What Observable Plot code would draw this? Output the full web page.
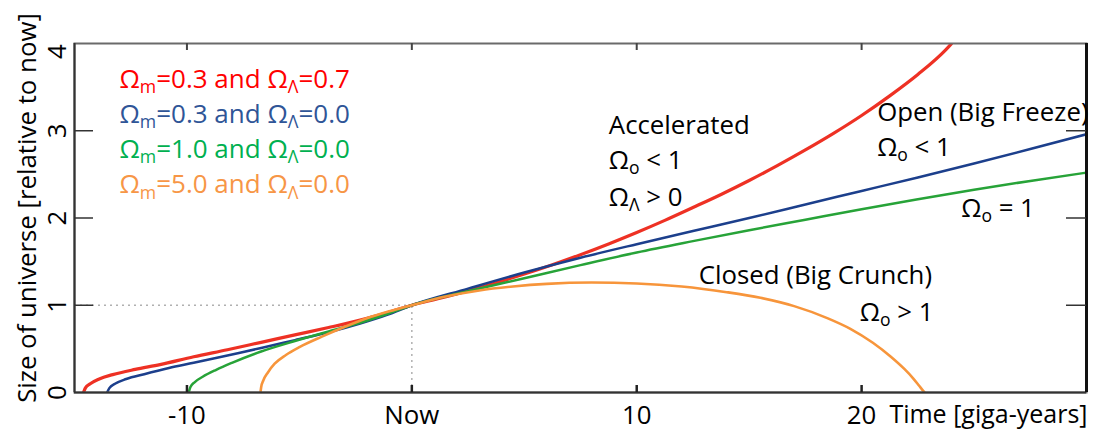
<!DOCTYPE html>
<html>
<head>
<meta charset="utf-8">
<script src="https://cdn.jsdelivr.net/npm/d3@7"></script>
<script src="https://cdn.jsdelivr.net/npm/@observablehq/plot@0.6"></script>
<style>
  html, body { margin: 0; padding: 0; background: #fff; }
  #chart { width: 1095px; height: 431px; }
</style>
</head>
<body>
<div id="chart"></div>
<script>
// ---------- data (time in giga-years relative to now, size relative to now) ----------
const redTime = [-14.6,-14.52,-14.3,-13.9,-13.3,-12.3,-11.2,-9.7,-8.2,-6.7,-5.2,-3.7,-2.3,-1.1,0,1.25,2.5,3.75,5,6.25,7.5,8.75,10,11.25,12.5,13.75,15,16.25,17.5,18.75,20,21.25,22.5,23.75,24.0];
const redSize = [0,0.05,0.10,0.155,0.205,0.265,0.32,0.41,0.49,0.575,0.66,0.745,0.83,0.915,1.0,1.08,1.165,1.258,1.358,1.465,1.58,1.703,1.834,1.973,2.12,2.27,2.43,2.60,2.78,2.97,3.175,3.40,3.645,3.93,4.0];

const blueTime = [-13.55,-13.45,-13.2,-12.7,-11.9,-10.8,-9.7,-8.2,-6.7,-5.2,-3.7,-2.3,-1.1,0,2.5,5,7.5,10,12.5,15,17.5,20,22.5,25,27.5,30];
const blueSize = [0,0.05,0.10,0.155,0.21,0.28,0.34,0.425,0.51,0.60,0.69,0.79,0.89,1.0,1.19,1.375,1.545,1.70,1.85,2.0,2.155,2.31,2.465,2.625,2.79,2.96];

const greenTime = [-9.92,-9.85,-9.65,-9.3,-8.7,-8.0,-6.7,-5.2,-3.7,-2.3,-1.1,0,2.5,5,7.5,10,12.5,15,17.5,20,22.5,25,27.5,30];
const greenSize = [0,0.06,0.12,0.18,0.26,0.34,0.47,0.59,0.70,0.80,0.90,1.0,1.16,1.31,1.46,1.605,1.735,1.86,1.98,2.10,2.215,2.325,2.425,2.52];

const orangeTime = [-6.73,-6.7,-6.6,-6.4,-6.1,-5.6,-5.0,-4.0,-3.0,-2.0,-1.0,0,1.5,3,4.5,6,8,10,12,14,15.5,17,18.5,19.5,20.5,21.3,21.9,22.3,22.55,22.72,22.8];
const orangeSize = [0,0.06,0.14,0.23,0.33,0.43,0.52,0.64,0.75,0.85,0.93,1.0,1.1,1.17,1.215,1.245,1.26,1.25,1.215,1.15,1.085,0.99,0.85,0.73,0.57,0.41,0.27,0.16,0.08,0.025,0];

const seriesNames  = ["red", "blue", "green", "orange"];
const legendLabels = ["Ω_m=0.3 and Ω_Λ=0.7", "Ω_m=0.3 and Ω_Λ=0.0", "Ω_m=1.0 and Ω_Λ=0.0", "Ω_m=5.0 and Ω_Λ=0.0"];
const lineColors   = ["#ee3124", "#1c3f8c", "#27a338", "#f7953b"];
const legendColors = ["#ff0000", "#2f5597", "#00b050", "#f79646"];

const xTicks = [-10, 0, 10, 20];
const xTickLabels = ["-10", "Now", "10", "20"];
const yTicks = [0, 1, 2, 3, 4];
const yInnerTicks = [1, 2, 3];
const xDomain = [-15, 30];
const yDomain = [0, 4];
const nowTime = [0];
const nowSize = [1];

const annotTexts = ["Accelerated", "Ω_o < 1", "Ω_Λ > 0", "Open (Big Freeze)", "Ω_o < 1", "Ω_o = 1", "Closed (Big Crunch)", "Ω_o > 1"];
const annotTime  = [8.76, 8.76, 8.76, 20.69, 20.69, 24.43, 12.76, 19.92];
const annotSize  = [2.965, 2.564, 2.143, 3.11, 2.71, 2.01, 1.24, 0.825];

const xLabel = "Time [giga-years]";
const yLabel = "Size of universe [relative to now]";

// ---------- build tables ----------
const seriesTime = [redTime, blueTime, greenTime, orangeTime];
const seriesSize = [redSize, blueSize, greenSize, orangeSize];
const curves = seriesNames.map((name, i) => seriesTime[i].map((t, j) => ({t, s: seriesSize[i][j], name})));
const annots = annotTexts.map((text, i) => ({text, t: annotTime[i], s: annotSize[i]}));
const widths = [3.2, 2.5, 2.5, 2.6];

const W = 1095, H = 431, mL = 74, mR = 9, mT = 43, mB = 39;
const frameW = W - mL - mR, frameH = H - mT - mB;
const FS = 25.8;

const marks = [
  // dotted reference lines to "now"
  Plot.ruleY(nowSize, {x1: xDomain[0], x2: nowTime[0], stroke: "#b0b0b0", strokeWidth: 1.5, strokeDasharray: "2,4"}),
  Plot.ruleX(nowTime, {y1: yDomain[0], y2: nowSize[0], stroke: "#b0b0b0", strokeWidth: 1.5, strokeDasharray: "2,4"}),
  // curves
  ...curves.map((c, i) => Plot.line(c, {x: "t", y: "s", stroke: lineColors[i], strokeWidth: widths[i], curve: "monotone-x", clip: true})),
  // frame
  Plot.frame({stroke: "#6a6a6a", strokeWidth: 2}),
  Plot.ruleY([yDomain[0]], {stroke: "#333", strokeWidth: 2}),
  Plot.ruleX([xDomain[0]], {stroke: "#333", strokeWidth: 2}),
  Plot.ruleX([xDomain[1]], {stroke: "#111", strokeWidth: 3}),
  // inward ticks
  Plot.ruleY(yInnerTicks, {stroke: "#333", strokeWidth: 1.5, insetRight: frameW - 19}),
  Plot.ruleY(yInnerTicks, {stroke: "#333", strokeWidth: 1.5, insetLeft: frameW - 20}),
  Plot.ruleX(xTicks, {stroke: "#222", strokeWidth: 2.5, insetTop: frameH - 7}),
  Plot.ruleX(xTicks, {stroke: "#444", strokeWidth: 2, insetBottom: frameH - 7}),
  // x tick labels
  Plot.text(xTicks, {x: d => d, frameAnchor: "bottom", dy: 31, lineAnchor: "bottom", textAnchor: "middle",
    text: (d, i) => xTickLabels[i], fontSize: FS, fill: "#000"}),
  // y tick labels (rotated)
  Plot.text(yTicks.slice(0, 4), {y: d => d, frameAnchor: "left", dx: -9, rotate: -90, lineAnchor: "bottom", textAnchor: "middle",
    text: d => String(d), fontSize: FS, fill: "#000"}),
  Plot.text(yTicks.slice(4), {y: d => d, frameAnchor: "left", dx: -9, dy: 8, rotate: -90, lineAnchor: "bottom", textAnchor: "middle",
    text: d => String(d), fontSize: FS, fill: "#000"}),
  // axis labels
  Plot.text([xLabel], {frameAnchor: "bottom-right", dx: 1, dy: 30, lineAnchor: "bottom", textAnchor: "end",
    text: d => d, fontSize: 25, fill: "#000"}),
  Plot.text([yLabel], {frameAnchor: "left", dx: -39, dy: -10, rotate: -90, lineAnchor: "bottom", textAnchor: "middle",
    text: d => d, fontSize: FS, fill: "#000"}),
  // annotations
  Plot.text(annots, {x: "t", y: "s", text: "text", textAnchor: "start", lineAnchor: "bottom", fontSize: FS, fill: "#000"}),
  // legend
  ...legendLabels.map((lab, i) => Plot.text([lab], {frameAnchor: "top-left", dx: 45, dy: 44 + i * 35.3,
    lineAnchor: "bottom", textAnchor: "start", text: d => d, fontSize: 26, fill: legendColors[i]}))
];

const chart = Plot.plot({
  width: W, height: H,
  marginLeft: mL, marginRight: mR, marginTop: mT, marginBottom: mB,
  x: {domain: xDomain, axis: null},
  y: {domain: yDomain, axis: null},
  style: {fontFamily: "'Open Sans', sans-serif", fontSize: FS + "px", background: "#fff", color: "#000", overflow: "visible"},
  marks
});
document.getElementById("chart").appendChild(chart);

// ---------- subscripts: "X_y" renders y as a lowered, smaller character ----------
const NS = "http://www.w3.org/2000/svg";
chart.querySelectorAll("text").forEach(t => {
  const s = t.textContent;
  if (!s.includes("_") || t.querySelector("tspan")) return;
  const fs = parseFloat(getComputedStyle(t).fontSize) || FS;
  t.textContent = "";
  const parts = s.split(/_(.)/);
  let lowered = false;
  parts.forEach((p, i) => {
    if (!p) return;
    const ts = document.createElementNS(NS, "tspan");
    ts.textContent = p;
    if (i % 2 === 1) {
      ts.setAttribute("font-size", (fs * 0.68).toFixed(2));
      ts.setAttribute("dy", (fs * 0.2).toFixed(2));
      lowered = true;
    } else if (lowered) {
      ts.setAttribute("dy", (-fs * 0.2).toFixed(2));
      lowered = false;
    }
    t.appendChild(ts);
  });
});
</script>
</body>
</html>
